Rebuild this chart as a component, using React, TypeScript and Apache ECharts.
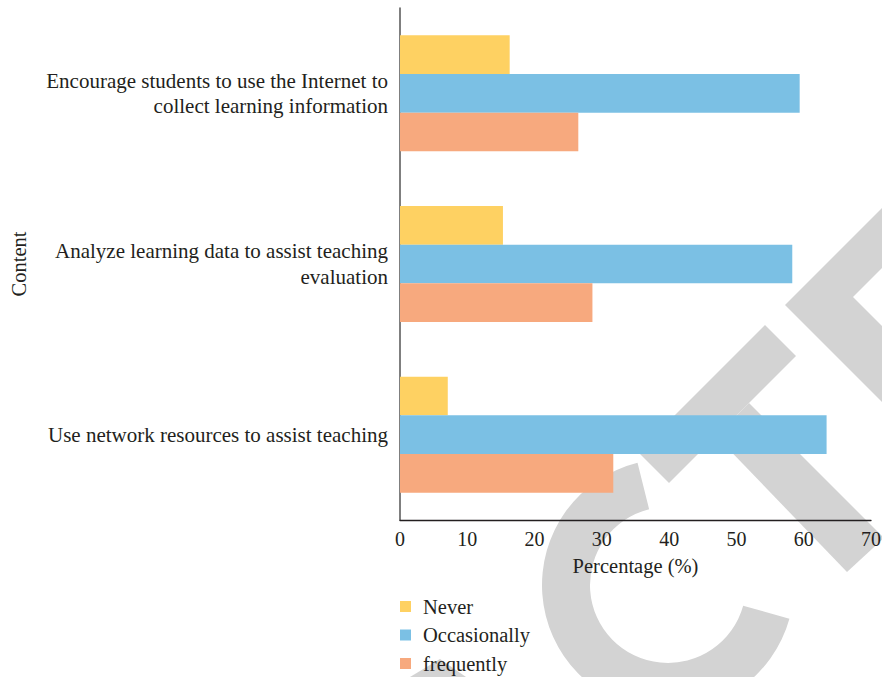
import React, { useEffect, useRef } from "react";
import * as echarts from "echarts";

const categories = [
  "Encourage students to use the Internet to\ncollect learning information",
  "Analyze learning data to assist teaching\nevaluation",
  "Use network resources to assist teaching",
];
const seriesNames = ["Never", "Occasionally", "frequently"];
const neverValues = [16.3, 15.3, 7.1];
const occasionallyValues = [59.4, 58.3, 63.4];
const frequentlyValues = [26.5, 28.6, 31.7];
const colors = ["#FED162", "#7BC0E4", "#F7A97E"];
const yAxisTitle = "Content";
const xAxisTitle = "Percentage (%)";

const FONT = "Liberation Serif";
const TEXT = "#231f20";
const WM = "#d3d3d3";

export default function App() {
  const ref = useRef<HTMLDivElement>(null);
  useEffect(() => {
    if (!ref.current) return;
    const chart = echarts.init(ref.current, undefined, { renderer: "svg" });
    const deg = Math.PI / 180;
    chart.setOption({
      animation: false,
      backgroundColor: "#ffffff",
      textStyle: { fontFamily: FONT, color: TEXT },
      graphic: {
        elements: [
          {
            type: "sector",
            z: -10,
            silent: true,
            shape: { cx: 668, cy: 585, r0: 78, r: 126, startAngle: 15.5 * deg, endAngle: 256 * deg, clockwise: true },
            style: { fill: WM },
          },
          {
            type: "polygon",
            z: -10,
            silent: true,
            shape: { points: [[765, 325], [796, 356], [669, 483], [638, 452]] },
            style: { fill: WM },
          },
          {
            type: "polygon",
            z: -10,
            silent: true,
            shape: { points: [[716, 436], [749, 403], [884, 538], [847, 572]] },
            style: { fill: WM },
          },
          {
            type: "polygon",
            z: -10,
            silent: true,
            shape: { points: [[785, 305], [890, 200], [890, 260], [853, 297], [890, 334], [890, 410]] },
            style: { fill: WM },
          },
          {
            type: "polygon",
            z: -10,
            silent: true,
            shape: { points: [[410, 677], [440, 659], [466, 677]] },
            style: { fill: WM },
          },
          {
            type: "text",
            z: 10,
            x: 19,
            y: 264,
            rotation: Math.PI / 2,
            silent: true,
            style: {
              text: yAxisTitle,
              fontFamily: FONT,
              fontSize: 20.5,
              fill: TEXT,
              align: "center",
              verticalAlign: "middle",
            },
          },
        ],
      },
      grid: { left: 400, right: 11, top: 8, bottom: 157, containLabel: false, outerBoundsMode: "none" },
      legend: {
        data: seriesNames,
        orient: "vertical",
        left: 400,
        top: 596,
        padding: 0,
        itemWidth: 11,
        itemHeight: 11,
        itemGap: 7.5,
        icon: "rect",
        textStyle: { fontFamily: FONT, fontSize: 20.5, lineHeight: 20, color: TEXT, padding: [0, 0, 0, 7] },
      },
      xAxis: {
        type: "value",
        min: 0,
        max: 70,
        interval: 10,
        splitLine: { show: false },
        axisTick: { show: false },
        axisLine: { show: true, lineStyle: { color: "#231f20", width: 1.3 } },
        axisLabel: { fontFamily: FONT, fontSize: 20, color: TEXT, margin: 9 },
        name: xAxisTitle,
        nameLocation: "middle",
        nameGap: 35,
        nameTextStyle: { fontFamily: FONT, fontSize: 20.5, color: TEXT },
      },
      yAxis: {
        type: "category",
        data: categories,
        inverse: true,
        axisTick: { show: false },
        axisLine: { show: true, lineStyle: { color: "#555555", width: 1.5 } },
        axisLabel: { fontFamily: FONT, fontSize: 21, lineHeight: 25.5, color: TEXT, margin: 12, align: "right" },
      },
      series: [
        { name: seriesNames[0], type: "bar", data: neverValues, itemStyle: { color: colors[0] }, barGap: "0%", barCategoryGap: "32%" },
        { name: seriesNames[1], type: "bar", data: occasionallyValues, itemStyle: { color: colors[1] }, barGap: "0%", barCategoryGap: "32%" },
        { name: seriesNames[2], type: "bar", data: frequentlyValues, itemStyle: { color: colors[2] }, barGap: "0%", barCategoryGap: "32%" },
      ],
    });
    return () => chart.dispose();
  }, []);
  return (
    <div
      ref={ref}
      style={{ position: "fixed", left: 0, top: 0, width: 882, height: 677 }}
    />
  );
}
